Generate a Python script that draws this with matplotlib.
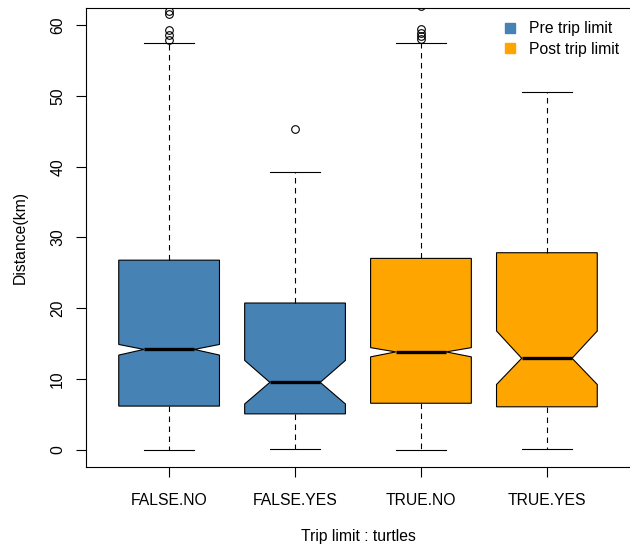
import matplotlib
matplotlib.use("Agg")
import matplotlib.pyplot as plt
from matplotlib.lines import Line2D

plt.rcParams['font.family'] = ['Liberation Sans', 'DejaVu Sans']

categories = ["FALSE.NO", "FALSE.YES", "TRUE.NO", "TRUE.YES"]
medians = [14.2, 9.55, 13.85, 12.95]
q1s = [6.2, 5.1, 6.6, 6.1]
q3s = [26.8, 20.75, 27.05, 27.85]
ci_lo = [13.4, 6.5, 13.15, 9.25]
ci_hi = [14.9, 12.65, 14.45, 16.8]
whisk_lo = [0.0, 0.1, 0.0, 0.1]
whisk_hi = [57.5, 39.3, 57.4, 50.5]
outliers = [[57.9, 58.6, 59.3, 61.6, 62.0],
            [45.3],
            [58.0, 58.4, 58.9, 59.4, 62.7],
            []]
group_labels = ["Pre trip limit", "Post trip limit"]
group_colors = ["#4682B4", "#FFA500"]
box_group = [0, 0, 1, 1]

FS = 11.3

fig = plt.figure(figsize=(6.3, 5.46), dpi=100)
ax = fig.add_axes([86/630, 79/546, 1 - 86/630, (467-8)/546])

stats = []
for i in range(len(categories)):
    stats.append(dict(med=medians[i], q1=q1s[i], q3=q3s[i], cilo=ci_lo[i], cihi=ci_hi[i],
                      whislo=whisk_lo[i], whishi=whisk_hi[i], fliers=outliers[i], label=categories[i]))

positions = list(range(1, len(categories) + 1))
bp = ax.bxp(stats, positions=positions, widths=0.8, shownotches=True, patch_artist=True,
            capwidths=0.4,
            boxprops=dict(linewidth=0.8, edgecolor='black'),
            medianprops=dict(color='black', linewidth=2.4, solid_capstyle='butt'),
            whiskerprops=dict(color='black', linewidth=0.8, linestyle=(0, (5, 4))),
            capprops=dict(color='black', linewidth=0.8),
            flierprops=dict(marker='o', markerfacecolor='none', markeredgecolor='black',
                            markersize=5.5, markeredgewidth=0.8))
for patch, g in zip(bp['boxes'], box_group):
    patch.set_facecolor(group_colors[g])

ax.set_xlim(0.34, 4.66)
ax.set_ylim(-2.4, 62.4)
ax.set_yticks([0, 10, 20, 30, 40, 50, 60])
ax.set_xticks(positions)
ax.set_xticklabels(categories)
for lab in ax.get_yticklabels():
    lab.set_rotation(90)
    lab.set_va('center')
ax.tick_params(axis='both', labelsize=FS, length=7, width=0.8, direction='out')
ax.tick_params(axis='x', pad=12)
ax.tick_params(axis='y', pad=8)
ax.spines['right'].set_visible(False)
for s in ['left', 'bottom', 'top']:
    ax.spines[s].set_linewidth(0.8)

ax.set_xlabel("Trip limit : turtles", fontsize=FS, labelpad=15)
ax.set_ylabel("Distance(km)", fontsize=FS, labelpad=16)

handles = [Line2D([], [], marker='s', linestyle='none', markersize=6.5,
                  markerfacecolor=c, markeredgecolor=c) for c in group_colors]
ax.legend(handles, group_labels, loc='upper right', bbox_to_anchor=(1.0, 0.995),
          frameon=False, fontsize=FS, handlelength=0.8, handletextpad=0.8,
          labelspacing=0.35, borderaxespad=0.3)

fig.savefig("out.png", dpi=100)
